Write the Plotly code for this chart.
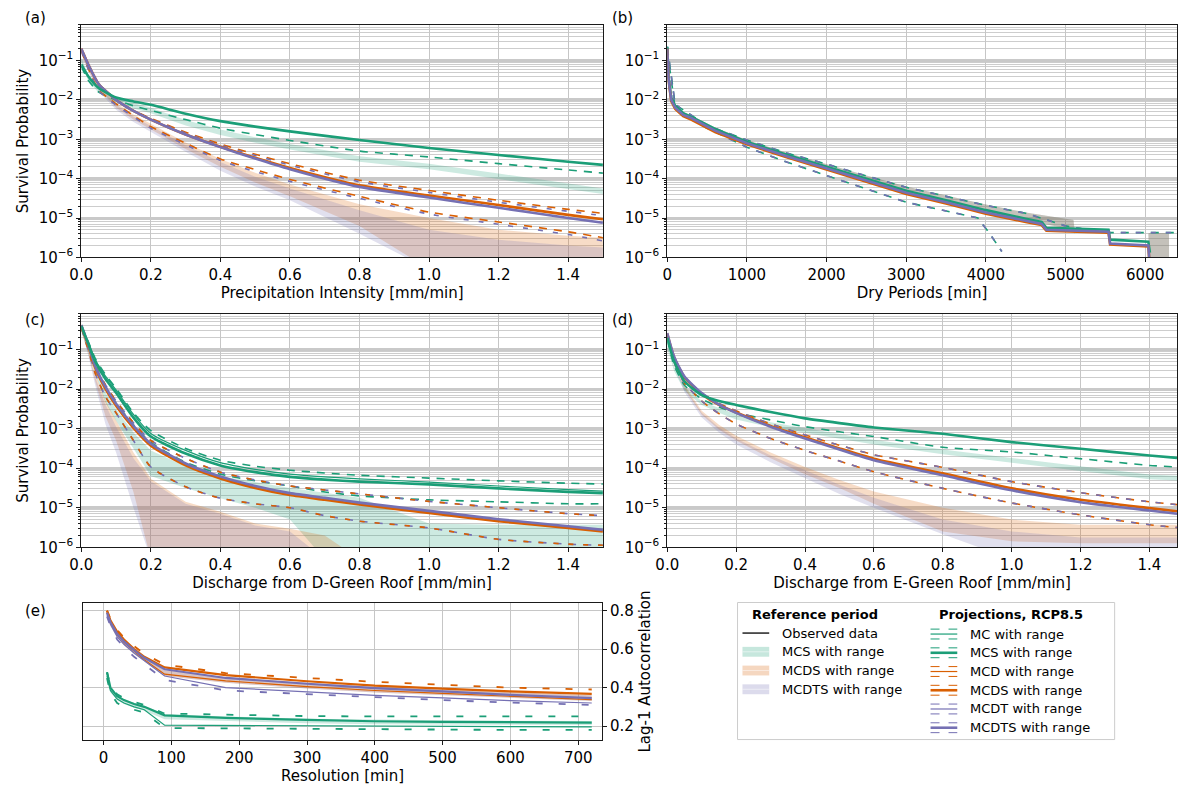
import plotly.graph_objects as go

# ---------------------------------------------------------------------------
# Survival curves: values are log10(survival probability)
# ---------------------------------------------------------------------------

# (a) precipitation intensity [mm/min]
A_X = [0, 0.02, 0.05, 0.1, 0.15, 0.2, 0.3, 0.4, 0.5, 0.6, 0.8, 1.0, 1.2, 1.4, 1.5]
A_MCS_REF_HI = [-0.93, -1.38, -1.68, -1.93, -2.08, -2.2, -2.51, -2.75, -2.95, -3.12, -3.43, -3.62, -3.87, -4.12, -4.25]
A_MCS_REF_LO = [-1.07, -1.52, -1.82, -2.07, -2.22, -2.34, -2.65, -2.89, -3.09, -3.26, -3.57, -3.76, -4.01, -4.26, -4.39]
A_MCDS_REF_HI = [-0.72, -1.15, -1.6, -2.08, -2.37, -2.6, -3.08, -3.5, -3.85, -4.15, -4.65, -5.0, -5.3, -5.45, -5.5]
A_MCDS_REF_LO = [-0.8, -1.25, -1.72, -2.2, -2.5, -2.75, -3.25, -3.7, -4.1, -4.45, -5.2, -6.3, -6.3, -6.3, -6.3]
A_MCDTS_REF_HI = [-0.74, -1.18, -1.65, -2.12, -2.42, -2.66, -3.15, -3.58, -3.95, -4.25, -4.8, -5.3, -5.55, -5.7, -5.75]
A_MCDTS_REF_LO = [-0.82, -1.28, -1.78, -2.25, -2.56, -2.82, -3.32, -3.8, -4.2, -4.55, -5.4, -6.3, -6.3, -6.3, -6.3]
A_MCS = [-1.1, -1.4, -1.7, -1.94, -2.04, -2.125, -2.35, -2.54, -2.68, -2.8, -3.02, -3.22, -3.4, -3.57, -3.65]
A_MCS_LO = [-1.15, -1.5, -1.8, -2.0, -2.15, -2.27, -2.5, -2.72, -2.88, -3.03, -3.3, -3.45, -3.62, -3.78, -3.86]
A_MCDS = [-0.7, -1.1, -1.6, -2.0, -2.28, -2.5, -2.88, -3.19, -3.47, -3.73, -4.17, -4.43, -4.67, -4.92, -5.03]
A_MCDTS = [-0.7, -1.1, -1.6, -2.0, -2.28, -2.5, -2.88, -3.2, -3.49, -3.76, -4.21, -4.48, -4.74, -5.0, -5.12]
A_MCDS_HI = [-0.7, -1.1, -1.6, -2.0, -2.27, -2.47, -2.82, -3.12, -3.38, -3.62, -4.04, -4.3, -4.55, -4.78, -4.88]
A_MCDTS_HI = [-0.7, -1.1, -1.6, -2.0, -2.28, -2.49, -2.84, -3.15, -3.41, -3.66, -4.08, -4.35, -4.6, -4.83, -4.94]
A_MCDS_LO = [-0.75, -1.2, -1.75, -2.1, -2.4, -2.68, -3.1, -3.5, -3.77, -4.02, -4.45, -4.85, -5.1, -5.35, -5.5]
A_MCDTS_LO = [-0.76, -1.22, -1.77, -2.13, -2.43, -2.72, -3.14, -3.54, -3.82, -4.07, -4.5, -4.9, -5.16, -5.42, -5.58]

# (b) dry periods [min]
B_X = [0, 15, 50, 100, 200, 300, 600, 1000, 1500, 2000, 2500, 3000, 3500, 4000, 4500, 4700, 4760, 5540, 5560, 6040, 6060]
B_MCDTS = [-0.7, -1.45, -2.0, -2.2, -2.38, -2.46, -2.78, -3.1, -3.43, -3.74, -4.05, -4.36, -4.6, -4.86, -5.07, -5.15, -5.3, -5.35, -5.65, -5.7, -6.3]
B_MCDS = [-0.7, -1.47, -2.03, -2.23, -2.41, -2.5, -2.82, -3.13, -3.46, -3.77, -4.08, -4.39, -4.63, -4.89, -5.1, -5.18, -5.32, -5.37, -5.67, -5.72, -6.3]
B_MCS = [-0.65, -1.4, -1.95, -2.15, -2.34, -2.43, -2.74, -3.07, -3.39, -3.7, -4.0, -4.31, -4.55, -4.8, -5.02, -5.1, -5.25, -5.3, -5.55, -5.6, -5.88]
B_REF_X = [0, 15, 50, 100, 200, 300, 600, 1000, 1500, 2000, 2500, 3000, 3500, 4000, 4500, 4800, 5100, 5120, 6040, 6060, 6300]
B_REF_HI = [-0.65, -1.38, -1.93, -2.13, -2.31, -2.39, -2.7, -3.02, -3.34, -3.64, -3.92, -4.2, -4.43, -4.66, -4.86, -4.95, -5.05, -5.4, -5.4, -5.38, -5.38]
B_REF_LO = [-0.72, -1.46, -2.02, -2.22, -2.4, -2.48, -2.8, -3.12, -3.45, -3.76, -4.06, -4.36, -4.6, -4.86, -5.06, -5.18, -5.3, -5.4, -5.4, -6.3, -6.3]
B_UP_X = [0, 100, 500, 1000, 1500, 2000, 2500, 3000, 3500, 4000, 4500, 5000, 5500, 6400]
B_UP = [-0.65, -2.12, -2.65, -3.02, -3.35, -3.63, -3.93, -4.22, -4.45, -4.68, -4.88, -5.2, -5.37, -5.37]
B_LO_X = [0, 100, 500, 1000, 1500, 2000, 2500, 3000, 3500, 3900, 4050, 4200]
B_LO = [-0.75, -2.22, -2.72, -3.2, -3.58, -3.93, -4.26, -4.6, -4.83, -5.0, -5.4, -5.85]

# (c) discharge from D-green roof [mm/min]
C_X = [0, 0.02, 0.04, 0.07, 0.1, 0.15, 0.2, 0.3, 0.4, 0.5, 0.6, 0.7, 0.8, 1.0, 1.2, 1.4, 1.5]
C_MCS_REF_HI = [-0.5, -1.0, -1.45, -2.1, -2.5, -3.1, -3.55, -3.95, -4.2, -4.35, -4.5, -4.62, -4.75, -5.4, -5.43, -5.43, -5.43]
C_MCS_REF_LO = [-0.55, -1.1, -1.6, -2.35, -2.8, -3.5, -4.2, -4.5, -4.76, -5.0, -5.3, -6.3, -6.3, -6.3, -6.3, -6.3, -6.3]
C_MCDS_REF_HI = [-0.45, -1.0, -1.6, -2.3, -2.8, -3.6, -4.27, -4.85, -5.1, -5.4, -5.53, -5.7, -6.3, -6.3, -6.3, -6.3, -6.3]
C_MCDS_REF_LO = [-0.5, -1.1, -1.8, -2.7, -3.3, -4.6, -6.3, -6.3, -6.3, -6.3, -6.3, -6.3, -6.3, -6.3, -6.3, -6.3, -6.3]
C_MCDTS_REF_HI = [-0.45, -1.05, -1.7, -2.4, -2.95, -3.75, -4.33, -4.9, -5.15, -5.45, -5.6, -6.3, -6.3, -6.3, -6.3, -6.3, -6.3]
C_MCDTS_REF_LO = [-0.5, -1.15, -1.9, -2.9, -3.6, -5.0, -6.3, -6.3, -6.3, -6.3, -6.3, -6.3, -6.3, -6.3, -6.3, -6.3, -6.3]
C_MCS = [-0.4, -0.85, -1.3, -1.75, -2.09, -2.72, -3.2, -3.63, -3.93, -4.1, -4.22, -4.29, -4.34, -4.41, -4.51, -4.6, -4.63]
C_MC = [-0.4, -0.82, -1.25, -1.68, -2.02, -2.64, -3.12, -3.55, -3.86, -4.03, -4.15, -4.22, -4.27, -4.35, -4.45, -4.54, -4.58]
C_MCS_HI = [-0.4, -0.8, -1.22, -1.64, -1.98, -2.6, -3.05, -3.5, -3.8, -3.95, -4.05, -4.12, -4.18, -4.25, -4.32, -4.38, -4.4]
C_MCS_LO = [-0.45, -0.95, -1.45, -1.95, -2.35, -2.9, -3.35, -3.85, -4.15, -4.32, -4.45, -4.6, -4.7, -4.8, -4.85, -4.9, -4.9]
C_MCDS = [-0.4, -0.9, -1.46, -2.0, -2.42, -2.98, -3.43, -3.93, -4.26, -4.5, -4.68, -4.8, -4.92, -5.13, -5.34, -5.51, -5.6]
C_MCDTS = [-0.38, -0.87, -1.42, -1.95, -2.37, -2.93, -3.38, -3.88, -4.21, -4.45, -4.63, -4.75, -4.87, -5.08, -5.29, -5.47, -5.56]
C_OP_HI = [-0.38, -0.85, -1.4, -1.9, -2.3, -2.85, -3.3, -3.75, -4.1, -4.3, -4.45, -4.55, -4.65, -4.84, -5.0, -5.15, -5.2]
C_OP_LO = [-0.45, -1.0, -1.6, -2.2, -2.6, -3.3, -3.97, -4.47, -4.76, -4.9, -5.0, -5.2, -5.34, -5.51, -5.8, -5.92, -5.95]

# (d) discharge from E-green roof [mm/min]
D_X = [0, 0.02, 0.05, 0.1, 0.15, 0.2, 0.3, 0.4, 0.5, 0.6, 0.8, 1.0, 1.2, 1.4, 1.48]
D_MCS_REF_HI = [-0.85, -1.45, -1.95, -2.3, -2.48, -2.63, -2.84, -2.99, -3.14, -3.28, -3.53, -3.74, -3.94, -4.16, -4.19]
D_MCS_REF_LO = [-0.95, -1.55, -2.05, -2.4, -2.6, -2.77, -2.96, -3.11, -3.26, -3.4, -3.65, -3.86, -4.06, -4.28, -4.31]
D_MCDS_REF_HI = [-0.6, -1.3, -1.9, -2.55, -2.9, -3.18, -3.6, -3.97, -4.3, -4.59, -5.0, -5.3, -5.43, -5.43, -5.43]
D_MCDS_REF_LO = [-0.65, -1.4, -2.0, -2.65, -3.02, -3.3, -3.75, -4.15, -4.5, -4.9, -5.6, -5.85, -5.9, -5.9, -5.9]
D_MCDTS_REF_HI = [-0.62, -1.33, -1.95, -2.6, -2.97, -3.25, -3.68, -4.05, -4.42, -4.75, -5.3, -5.6, -5.75, -5.75, -5.75]
D_MCDTS_REF_LO = [-0.68, -1.43, -2.07, -2.72, -3.1, -3.4, -3.85, -4.25, -4.65, -5.0, -5.67, -6.3, -6.3, -6.3, -6.3]
D_MCS = [-0.7, -1.3, -1.8, -2.15, -2.3, -2.4, -2.58, -2.74, -2.86, -2.97, -3.13, -3.34, -3.51, -3.68, -3.74]
D_MCS_LO = [-0.75, -1.4, -1.9, -2.25, -2.45, -2.6, -2.78, -2.95, -3.08, -3.2, -3.47, -3.59, -3.76, -3.93, -3.97]
D_MCDS = [-0.6, -1.2, -1.7, -2.12, -2.4, -2.59, -2.93, -3.22, -3.5, -3.76, -4.13, -4.51, -4.8, -5.01, -5.09]
D_MCDTS = [-0.58, -1.18, -1.68, -2.1, -2.39, -2.6, -2.95, -3.25, -3.53, -3.8, -4.18, -4.56, -4.86, -5.07, -5.15]
D_OP_HI = [-0.6, -1.2, -1.7, -2.1, -2.36, -2.55, -2.88, -3.16, -3.42, -3.66, -3.98, -4.34, -4.62, -4.85, -4.92]
D_OP_LO = [-0.65, -1.3, -1.85, -2.3, -2.62, -2.88, -3.25, -3.55, -3.82, -4.09, -4.51, -4.88, -5.18, -5.43, -5.5]

# (e) lag-1 autocorrelation against resolution [min]
E_X = [5, 10, 20, 30, 45, 60, 90, 180, 300, 400, 500, 600, 720]
E_OP_REF_HI = [0.80, 0.75, 0.69, 0.65, 0.60, 0.56, 0.49, 0.455, 0.425, 0.405, 0.39, 0.375, 0.36]
E_OP_REF_LO = [0.77, 0.72, 0.66, 0.62, 0.575, 0.535, 0.46, 0.425, 0.395, 0.375, 0.36, 0.345, 0.33]
E_MCS_REF_HI = [0.47, 0.40, 0.36, 0.34, 0.32, 0.305, 0.262, 0.25, 0.238, 0.233, 0.23, 0.228, 0.227]
E_MCS_REF_LO = [0.44, 0.375, 0.335, 0.315, 0.295, 0.28, 0.235, 0.225, 0.215, 0.21, 0.208, 0.206, 0.205]
E_MCDS = [0.80, 0.75, 0.69, 0.65, 0.60, 0.56, 0.505, 0.465, 0.433, 0.41, 0.395, 0.38, 0.367]
E_MCDTS = [0.79, 0.74, 0.68, 0.64, 0.595, 0.555, 0.495, 0.45, 0.42, 0.397, 0.38, 0.362, 0.345]
E_MCD = [0.79, 0.74, 0.675, 0.635, 0.59, 0.545, 0.47, 0.435, 0.405, 0.385, 0.37, 0.355, 0.337]
E_MCDT = [0.78, 0.73, 0.665, 0.625, 0.58, 0.54, 0.46, 0.40, 0.377, 0.36, 0.347, 0.332, 0.32]
E_OP_HI = [0.80, 0.76, 0.70, 0.66, 0.615, 0.575, 0.52, 0.475, 0.45, 0.43, 0.415, 0.40, 0.39]
E_OP_LO = [0.77, 0.72, 0.65, 0.61, 0.56, 0.52, 0.44, 0.385, 0.365, 0.35, 0.335, 0.322, 0.31]
E_MCS = [0.48, 0.40, 0.355, 0.335, 0.315, 0.30, 0.256, 0.243, 0.232, 0.225, 0.222, 0.22, 0.218]
E_MC = [0.46, 0.385, 0.34, 0.32, 0.30, 0.285, 0.205, 0.203, 0.2, 0.199, 0.198, 0.197, 0.196]
E_MCS_HI = [0.48, 0.41, 0.365, 0.345, 0.325, 0.31, 0.265, 0.258, 0.252, 0.25, 0.25, 0.25, 0.25]
E_MCS_LO = [0.45, 0.37, 0.32, 0.30, 0.285, 0.27, 0.19, 0.188, 0.183, 0.182, 0.18, 0.18, 0.18]

# Axis tick labels
LOG_TICKS = [1e-6, 1e-5, 1e-4, 1e-3, 1e-2, 1e-1]
LOG_TICKTEXT = ["10<sup>\u22126</sup>", "10<sup>\u22125</sup>", "10<sup>\u22124</sup>",
                "10<sup>\u22123</sup>", "10<sup>\u22122</sup>", "10<sup>\u22121</sup>"]
E_YTICKS = [0.2, 0.4, 0.6, 0.8]

# ---------------------------------------------------------------------------
GREEN, ORANGE, PURPLE = "#1b9e77", "#d95f02", "#7570b3"
W, H = 1178, 788
FONT = "DejaVu Sans"


def rgba(hex_color, a):
    h = hex_color.lstrip("#")
    r, g, b = int(h[0:2], 16), int(h[2:4], 16), int(h[4:6], 16)
    return f"rgba({r},{g},{b},{a})"


def prob(v):
    return [10.0 ** t for t in v]


fig = go.Figure()


def band(x, lo, hi, color, axes, alpha=0.22, log=True):
    conv = prob if log else list
    common = dict(mode="lines", xaxis=axes[0], yaxis=axes[1], showlegend=False, hoverinfo="skip")
    fig.add_trace(go.Scatter(x=x, y=conv(lo), line=dict(width=0), **common))
    fig.add_trace(go.Scatter(x=x, y=conv(hi), line=dict(width=0), fill="tonexty",
                             fillcolor=rgba(color, alpha), **common))


def curve(x, y, color, width, axes, dash="solid", shape="spline", log=True):
    conv = prob if log else list
    ln = dict(color=color, width=width, dash=dash, shape=shape)
    if shape == "spline":
        ln["smoothing"] = 0.6
    fig.add_trace(go.Scatter(x=x, y=conv(y), mode="lines", xaxis=axes[0], yaxis=axes[1],
                             line=ln, showlegend=False, hoverinfo="skip"))


DASH = "8px,7px"
DASH2 = "5px,10px"
THICK, THIN = 2.6, 1.2

# ---- (a)
ax = ("x", "y")
band(A_X, A_MCS_REF_LO, A_MCS_REF_HI, GREEN, ax)
band(A_X, A_MCDS_REF_LO, A_MCDS_REF_HI, ORANGE, ax)
band(A_X, A_MCDTS_REF_LO, A_MCDTS_REF_HI, PURPLE, ax)
curve(A_X, A_MCS_LO, GREEN, 1.6, ax, DASH)
curve(A_X, A_MCDS_HI, ORANGE, 1.6, ax, DASH)
curve(A_X, A_MCDTS_HI, PURPLE, 1.6, ax, DASH2)
curve(A_X, A_MCDS_LO, ORANGE, 1.6, ax, DASH)
curve(A_X, A_MCDTS_LO, PURPLE, 1.6, ax, DASH2)
curve(A_X, A_MCDS, ORANGE, THICK, ax)
curve(A_X, A_MCDTS, PURPLE, THICK, ax)
curve(A_X, A_MCS, GREEN, THICK, ax)

# ---- (b)
ax = ("x2", "y2")
band(B_REF_X, B_REF_LO, B_REF_HI, GREEN, ax, alpha=0.18)
band(B_REF_X, B_REF_LO, B_REF_HI, ORANGE, ax, alpha=0.18)
band(B_REF_X, B_REF_LO, B_REF_HI, PURPLE, ax, alpha=0.18)
curve(B_UP_X, B_UP, GREEN, 1.6, ax, DASH, "linear")
curve(B_UP_X, B_UP, PURPLE, 1.6, ax, DASH2, "linear")
curve(B_LO_X, B_LO, GREEN, 1.6, ax, DASH, "linear")
curve(B_LO_X, B_LO, PURPLE, 1.6, ax, DASH2, "linear")
curve(B_X, B_MCS, GREEN, THICK, ax, shape="linear")
curve(B_X, B_MCDS, ORANGE, THICK, ax, shape="linear")
curve(B_X, B_MCDTS, PURPLE, THICK, ax, shape="linear")

# ---- (c)
ax = ("x3", "y3")
band(C_X, C_MCS_REF_LO, C_MCS_REF_HI, GREEN, ax)
band(C_X, C_MCDS_REF_LO, C_MCDS_REF_HI, ORANGE, ax)
band(C_X, C_MCDTS_REF_LO, C_MCDTS_REF_HI, PURPLE, ax)
curve(C_X, C_MCS_HI, GREEN, 1.6, ax, DASH)
curve(C_X, C_MCS_LO, GREEN, 1.6, ax, DASH)
curve(C_X, C_OP_HI, PURPLE, 1.6, ax, DASH)
curve(C_X, C_OP_HI, ORANGE, 1.6, ax, DASH2)
curve(C_X, C_OP_LO, PURPLE, 1.6, ax, DASH)
curve(C_X, C_OP_LO, ORANGE, 1.6, ax, DASH2)
curve(C_X, C_MC, GREEN, THIN, ax)
curve(C_X, C_MCDS, ORANGE, THICK, ax)
curve(C_X, C_MCDTS, PURPLE, THICK, ax)
curve(C_X, C_MCS, GREEN, THICK, ax)

# ---- (d)
ax = ("x4", "y4")
band(D_X, D_MCS_REF_LO, D_MCS_REF_HI, GREEN, ax)
band(D_X, D_MCDS_REF_LO, D_MCDS_REF_HI, ORANGE, ax)
band(D_X, D_MCDTS_REF_LO, D_MCDTS_REF_HI, PURPLE, ax)
curve(D_X, D_MCS_LO, GREEN, 1.6, ax, DASH)
curve(D_X, D_OP_HI, ORANGE, 1.6, ax, DASH)
curve(D_X, D_OP_HI, PURPLE, 1.6, ax, DASH2)
curve(D_X, D_OP_LO, ORANGE, 1.6, ax, DASH)
curve(D_X, D_OP_LO, PURPLE, 1.6, ax, DASH2)
curve(D_X, D_MCDS, ORANGE, THICK, ax)
curve(D_X, D_MCDTS, PURPLE, THICK, ax)
curve(D_X, D_MCS, GREEN, THICK, ax)

# ---- (e)
ax = ("x5", "y5")
EDASH = "7px,16px"
band(E_X, E_OP_REF_LO, E_OP_REF_HI, ORANGE, ax, log=False)
band(E_X, E_OP_REF_LO, E_OP_REF_HI, PURPLE, ax, log=False)
band(E_X, E_MCS_REF_LO, E_MCS_REF_HI, GREEN, ax, log=False)
curve(E_X, E_OP_HI, ORANGE, 1.8, ax, EDASH, "linear", log=False)
curve(E_X, E_OP_LO, PURPLE, 1.8, ax, EDASH, "linear", log=False)
curve(E_X, E_MCS_HI, GREEN, 1.8, ax, EDASH, "linear", log=False)
curve(E_X, E_MCS_LO, GREEN, 1.8, ax, EDASH, "linear", log=False)
curve(E_X, E_MCD, ORANGE, THIN, ax, shape="linear", log=False)
curve(E_X, E_MCDT, PURPLE, THIN, ax, shape="linear", log=False)
curve(E_X, E_MC, GREEN, THIN, ax, shape="linear", log=False)
curve(E_X, E_MCDS, ORANGE, 2.2, ax, shape="linear", log=False)
curve(E_X, E_MCDTS, PURPLE, 2.2, ax, shape="linear", log=False)
curve(E_X, E_MCS, GREEN, 2.2, ax, shape="linear", log=False)

# ---------------------------------------------------------------------------
# Axes
def xd(a, b):
    return [a / W, b / W]


def yd(top, bottom):
    return [1 - bottom / H, 1 - top / H]


TICKFONT = dict(family=FONT, size=15, color="black")
TITLEFONT = dict(family=FONT, size=15, color="black")
SPINE = dict(showline=True, linecolor="#1a1a1a", linewidth=1, mirror=True,
             ticks="outside", ticklen=4, tickcolor="#1a1a1a", tickfont=TICKFONT,
             zeroline=False)
MINOR_VALS = [k * 10.0 ** e for e in range(-7, 0) for k in range(2, 10)]


def log_y(domain, anchor, title=None):
    d = dict(type="log", domain=domain, anchor=anchor, range=[-6, -0.09],
             tickvals=LOG_TICKS, ticktext=LOG_TICKTEXT,
             showgrid=True, gridcolor="#c9c9c9", gridwidth=2.5,
             minor=dict(tickvals=MINOR_VALS, ticks="outside", ticklen=2, tickcolor="#1a1a1a",
                        showgrid=True, gridcolor="#cdcdcd", gridwidth=1),
             **SPINE)
    if title:
        d["title"] = dict(text=title, font=TITLEFONT, standoff=6)
    return d


def lin_x(domain, anchor, rng, dtick, fmt, title):
    return dict(domain=domain, anchor=anchor, range=rng, dtick=dtick, tick0=0, tickformat=fmt,
                showgrid=True, gridcolor="#c6c6c6", gridwidth=1,
                title=dict(text=title, font=TITLEFONT, standoff=2), **SPINE)


fig.update_layout(
    width=W, height=H, margin=dict(l=0, r=0, t=0, b=0),
    paper_bgcolor="white", plot_bgcolor="white", showlegend=False,
    font=dict(family=FONT, size=15, color="black"),
    xaxis=lin_x(xd(70, 597), "y", [0, 1.5], 0.2, ".1f", "Precipitation Intensity [mm/min]"),
    yaxis=log_y(yd(23, 259), "x", "Survival Probability"),
    xaxis2=lin_x(xd(662, 1177), "y2", [0, 6400], 1000, "d", "Dry Periods [min]"),
    yaxis2=log_y(yd(23, 259), "x2"),
    xaxis3=lin_x(xd(70, 597), "y3", [0, 1.5], 0.2, ".1f", "Discharge from D-Green Roof [mm/min]"),
    yaxis3=log_y(yd(316, 553), "x3", "Survival Probability"),
    xaxis4=lin_x(xd(662, 1177), "y4", [0, 1.48], 0.2, ".1f", "Discharge from E-Green Roof [mm/min]"),
    yaxis4=log_y(yd(316, 553), "x4"),
    xaxis5=lin_x(xd(72, 596), "y5", [-30, 735], 100, "d", "Resolution [min]"),
    yaxis5=dict(domain=yd(610, 748), anchor="x5", side="right", range=[0.13, 0.837],
                tickvals=E_YTICKS, tickformat=".1f", showgrid=True, gridcolor="#c6c6c6", gridwidth=1,
                title=dict(text="Lag-1 Autocorrelation", font=TITLEFONT, standoff=6), **SPINE),
)

# Panel letters
for letter, px, py in [("(a)", 11, 16), ("(b)", 604, 16), ("(c)", 11, 322), ("(d)", 604, 322), ("(e)", 11, 618)]:
    fig.add_annotation(text=letter, x=px / W, y=1 - py / H, xref="paper", yref="paper",
                       xanchor="left", yanchor="middle", showarrow=False,
                       font=dict(family=FONT, size=15, color="black"))

# ---------------------------------------------------------------------------
# Legend box (two columns)
def P(px, py):
    return px / W, 1 - py / H


def hline(x0, x1, y, color, width, dash="solid"):
    a, b = P(x0, y)
    c, _ = P(x1, y)
    fig.add_shape(type="line", xref="paper", yref="paper", x0=a, x1=c, y0=b, y1=b,
                  line=dict(color=color, width=width, dash=dash))


def rect(x0, y0, x1, y1, fill, line_color=None):
    a, b = P(x0, y1)
    c, d = P(x1, y0)
    fig.add_shape(type="rect", xref="paper", yref="paper", x0=a, x1=c, y0=b, y1=d,
                  fillcolor=fill, line=dict(color=line_color or "rgba(0,0,0,0)", width=1))


def label(text, px, py, anchor="left", bold=False):
    x, y = P(px, py)
    fig.add_annotation(text=f"<b>{text}</b>" if bold else text, x=x, y=y, xref="paper", yref="paper",
                       xanchor=anchor, yanchor="middle", showarrow=False,
                       font=dict(family=FONT, size=13, color="black"))


rect(733, 609, 1114, 748, "white", "#cccccc")
label("Reference period", 811, 621, "center", True)
label("Projections, RCP8.5", 1009, 621, "center", True)

hline(738, 765, 640, "#222222", 1.5)
label("Observed data", 776, 640)
for name, color, py in [("MCS with range", GREEN, 659), ("MCDS with range", ORANGE, 678),
                        ("MCDTS with range", PURPLE, 697)]:
    rect(738, py - 5, 765, py + 5, rgba(color, 0.25))
    hline(738, 765, py, "rgba(255,255,255,0.5)", 1)
    label(name, 776, py)

for name, color, width, py in [("MC with range", GREEN, THIN, 641), ("MCS with range", GREEN, THICK, 660),
                               ("MCD with range", ORANGE, THIN, 679), ("MCDS with range", ORANGE, THICK, 698),
                               ("MCDT with range", PURPLE, THIN, 717), ("MCDTS with range", PURPLE, THICK, 736)]:
    hline(928, 955, py - 5, color, 1, "dash")
    hline(928, 955, py + 5, color, 1, "dash")
    hline(928, 955, py, color, width)
    label(name, 966, py)

fig.write_html("out.html")
